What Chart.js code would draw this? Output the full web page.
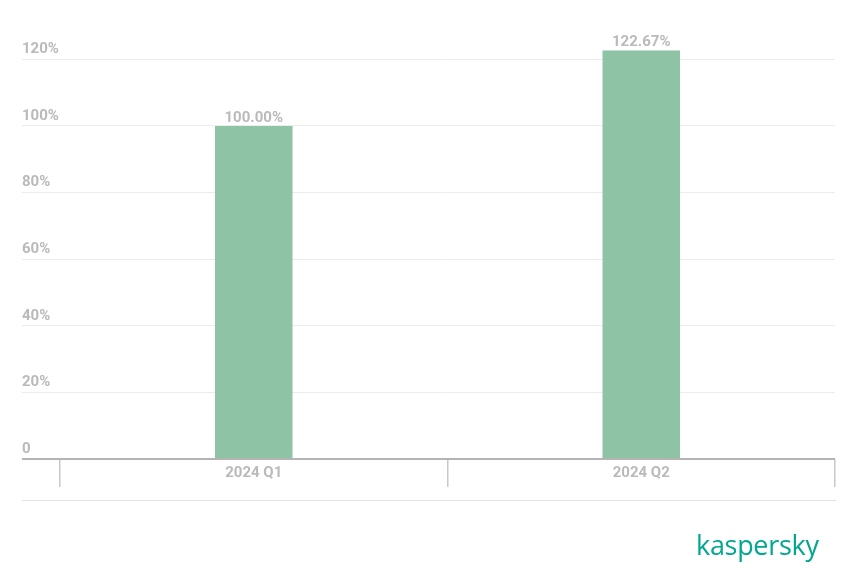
<!DOCTYPE html>
<html>
<head>
<meta charset="utf-8">
<script src="https://cdn.jsdelivr.net/npm/chart.js@4/dist/chart.umd.min.js"></script>
<style>
html,body{margin:0;padding:0;background:#fff;}
#wrap{position:relative;width:865px;height:577px;}
#logo{position:absolute;left:696px;top:529px;font-family:"Open Sans",Roboto,sans-serif;font-weight:500;font-size:27px;color:#00a88e;letter-spacing:-0.3px;line-height:32px;}
</style>
</head>
<body>
<div id="wrap">
<canvas id="c" width="865" height="577"></canvas>
<div id="logo">kaspersky</div>
</div>
<script>
const categories = ["2024 Q1", "2024 Q2"];
const values = [100.00, 122.67];
const valueLabels = ["100.00%", "122.67%"];

const labelColor = '#bababa';
const font = {family: 'Roboto, "Liberation Sans", sans-serif', size: 15, weight: 'bold'};

const extras = {
  id: 'extras',
  afterDatasetsDraw(chart) {
    const ctx = chart.ctx;
    const meta = chart.getDatasetMeta(0);
    ctx.save();
    ctx.font = 'bold 15px Roboto, "Liberation Sans", sans-serif';
    ctx.fillStyle = labelColor;
    ctx.textAlign = 'center';
    ctx.textBaseline = 'alphabetic';
    meta.data.forEach((bar, i) => {
      ctx.fillText(valueLabels[i], bar.x, bar.y - 4);
    });
    // bottom rule
    const y = chart.scales.y.getPixelForValue(0) + 41;
    ctx.strokeStyle = '#e2e2e2';
    ctx.lineWidth = 1;
    ctx.beginPath();
    ctx.moveTo(22, y + 0.5);
    ctx.lineTo(836, y + 0.5);
    ctx.stroke();
    ctx.restore();
  }
};

new Chart(document.getElementById('c'), {
  type: 'bar',
  data: {
    labels: categories,
    datasets: [{
      data: values,
      backgroundColor: '#8ec3a6',
      borderWidth: 0,
      barPercentage: 0.2,
      categoryPercentage: 1
    }]
  },
  options: {
    responsive: false,
    animation: false,
    layout: {padding: {left: 22, right: 30, top: 26, bottom: 90}},
    plugins: {legend: {display: false}, tooltip: {enabled: false}},
    scales: {
      x: {
        afterFit(s) { s.height = 28; },
        border: {display: false},
        grid: {
          offset: true,
          drawOnChartArea: false,
          drawTicks: true,
          tickLength: 28,
          color: '#c8c8c8',
          lineWidth: 1.5
        },
        ticks: {color: labelColor, font: font, padding: -23}
      },
      y: {
        min: 0,
        max: 130,
        afterFit(s) { s.width = 38; },
        border: {display: false},
        grid: {
          drawTicks: true,
          tickLength: 38,
          color: (c) => c.tick && c.tick.value === 0 ? '#b4b4b4' : '#ececec',
          lineWidth: (c) => c.tick && c.tick.value === 0 ? 2 : 1
        },
        ticks: {
          stepSize: 20,
          color: labelColor,
          font: font,
          crossAlign: 'far',
          padding: 0,
          labelOffset: -10,
          callback: (v) => v > 120 ? null : (v === 0 ? '0' : v + '%')
        }
      }
    }
  },
  plugins: [extras]
});
</script>
</body>
</html>
